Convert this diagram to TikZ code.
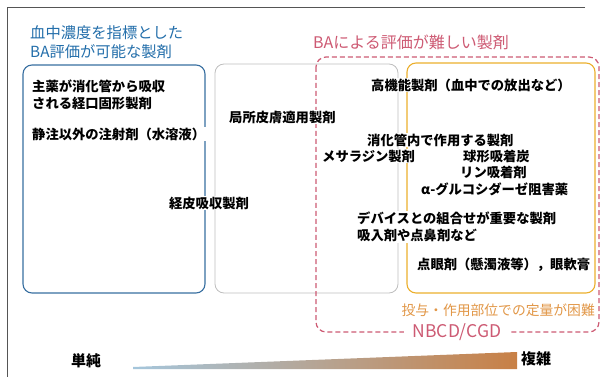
\documentclass[tikz,border=0pt]{standalone}
\usepackage{fontspec}
\setmainfont{Noto Sans CJK JP}
\usetikzlibrary{shapes.geometric}
\definecolor{ttlblue}{RGB}{35,110,170}
\definecolor{boxblue}{RGB}{55,110,160}
\definecolor{boxgray}{RGB}{190,190,190}
\definecolor{dashred}{RGB}{205,90,115}
\definecolor{boxorange}{RGB}{235,175,45}
\definecolor{txtorange}{RGB}{225,150,70}
\definecolor{gradblue}{RGB}{165,198,220}
\definecolor{gradmid}{RGB}{215,212,205}
\definecolor{gradbrown}{RGB}{200,128,70}
\definecolor{framegray}{RGB}{85,85,85}
\begin{document}
\begin{tikzpicture}[x=1pt,y=-1pt,
  lbl/.style={anchor=west,inner sep=1pt,font=\fontsize{13.3}{16.5}\selectfont\bfseries,text=black,fill=white},
  ttl/.style={anchor=west,inner sep=0pt,font=\fontsize{15.3}{19}\selectfont,align=left},
  panel/.style={rounded corners=9pt,line width=1.1pt}]
\useasboundingbox (0,0) rectangle (611,377);
% frame
\draw[framegray,line width=0.8pt] (585,7) -- (7,7) -- (7,377);
% titles
\node[ttl,text=ttlblue] (t1) at (30,42) {血中濃度を指標とした\\BA評価が可能な製剤};
\node[ttl,text=dashred,font=\fontsize{16}{19}\selectfont] (t2) at (313,42) {BAによる評価が難しい製剤};
% panels
\draw[panel,boxblue] (23,65) rectangle (205,293);
\draw[panel,boxgray,line width=0.8pt] (215,64) rectangle (398,293);
\draw[panel,boxorange] (407,63) rectangle (595,293);
\draw[dashred,line width=1.2pt,dash pattern=on 5pt off 3pt,rounded corners=10pt] (316,57) rectangle (599,332);
% left texts
\node[lbl,align=left] (a1) at (31,95) {主薬が消化管から吸収\\される経口固形製剤};
\node[lbl] (a2) at (31,134) {静注以外の注射剤（水溶液）};
\node[lbl] (b1) at (228,117) {局所皮膚適用製剤};
\node[lbl,anchor=center] (b2) at (209,203) {経皮吸収製剤};
% right texts
\node[lbl] (c1) at (370,85) {高機能製剤（血中での放出など）};
\node[lbl] (c2) at (366,140) {消化管内で作用する製剤};
\node[lbl] (c3) at (321,156) {メサラジン製剤};
\node[lbl] (c4) at (462,156) {球形吸着炭};
\node[lbl] (c5) at (459,172) {リン吸着剤};
\node[lbl] (c6) at (420,189) {α-グルコシダーゼ阻害薬};
\node[lbl,align=left] (c7) at (356,227) {デバイスとの組合せが重要な製剤\\吸入剤や点鼻剤など};
\node[lbl] (c8) at (416,265) {点眼剤（懸濁液等），眼軟膏};
\node[anchor=east,inner sep=1pt,text=txtorange,font=\fontsize{13.8}{16}\selectfont] (d1) at (596,310) {投与・作用部位での定量が困難};
\node[fill=white,inner xsep=9pt,inner ysep=3pt,text=dashred,font=\fontsize{17.5}{20}\selectfont] (d2) at (457,332) {NBCD/CGD};
% gradient bar
\shade[left color=gradblue,middle color=gradmid,right color=gradbrown] (133,367) -- (517,352) -- (517,369) -- (133,369) -- cycle;
\node[anchor=west,inner sep=0pt,font=\fontsize{15}{17}\selectfont\bfseries] (s1) at (71,361) {単純};
\node[anchor=west,inner sep=0pt,font=\fontsize{15}{17}\selectfont\bfseries] (s2) at (521,359) {複雑};
\end{tikzpicture}
\end{document}
